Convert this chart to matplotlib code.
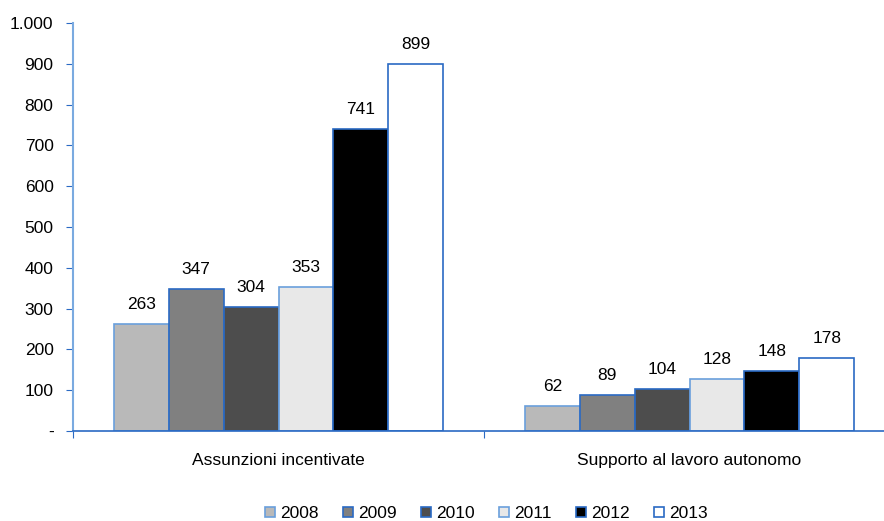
import matplotlib.pyplot as plt
import numpy as np

plt.rcParams['font.family'] = ['Liberation Sans', 'DejaVu Sans']

categories = ["Assunzioni incentivate", "Supporto al lavoro autonomo"]
years = ["2008", "2009", "2010", "2011", "2012", "2013"]
values = {
    "2008": [263, 62],
    "2009": [347, 89],
    "2010": [304, 104],
    "2011": [353, 128],
    "2012": [741, 148],
    "2013": [899, 178],
}
fills = ["#b9b9b9", "#808080", "#4d4d4d", "#e8e8e8", "#000000", "#ffffff"]
edges = ["#6a9fdc", "#2a6ac4", "#2a6ac4", "#6a9fdc", "#2a6ac4", "#2a6ac4"]
yticks = [0, 100, 200, 300, 400, 500, 600, 700, 800, 900, 1000]
ytick_labels = ["-", "100", "200", "300", "400", "500", "600", "700", "800", "900", "1.000"]

fs = 12.5
fig = plt.figure(figsize=(8.84, 5.21), dpi=100)
# axis runs past the right edge of the picture, as in the original
ax = fig.add_axes([0.0826, 0.1727, 0.93, 0.7832])

x = np.arange(len(categories))
w = 0.1334
for i, yr in enumerate(years):
    pos = x + (i - 2.5) * w
    ax.bar(pos, values[yr], w, color=fills[i], edgecolor=edges[i], linewidth=1.2, label=yr)
    for p, v in zip(pos, values[yr]):
        ax.text(p, v + 48, str(v), ha='center', va='center', fontsize=fs)

ax.set_xlim(-0.5, 1.5)
ax.set_ylim(0, 1000)
ax.set_yticks(yticks)
ax.set_yticklabels(ytick_labels, fontsize=fs)
ax.set_xticks([-0.5, 0.5, 1.5])
ax.set_xticklabels([])
ax.set_xticks(x, minor=True)
ax.set_xticklabels(categories, minor=True, fontsize=fs)
ax.tick_params(axis='x', which='minor', length=0, pad=16)
ax.tick_params(axis='x', which='major', length=5, color='#2a6ac4', direction='out')
ax.tick_params(axis='y', length=5, color='#2a6ac4', pad=9)

for s in ['top', 'right']:
    ax.spines[s].set_visible(False)
ax.spines['left'].set_color('#7aaae0')
ax.spines['left'].set_linewidth(1.5)
ax.spines['bottom'].set_color('#2a6ac4')
ax.spines['bottom'].set_linewidth(1.2)

fig.legend(*ax.get_legend_handles_labels(), loc='center', bbox_to_anchor=(0.55, 0.014),
           ncol=6, frameon=False, fontsize=fs, handlelength=0.57, handleheight=0.57,
           handletextpad=0.3, columnspacing=1.4, borderpad=0.1)

fig.savefig("out.png", dpi=100)
